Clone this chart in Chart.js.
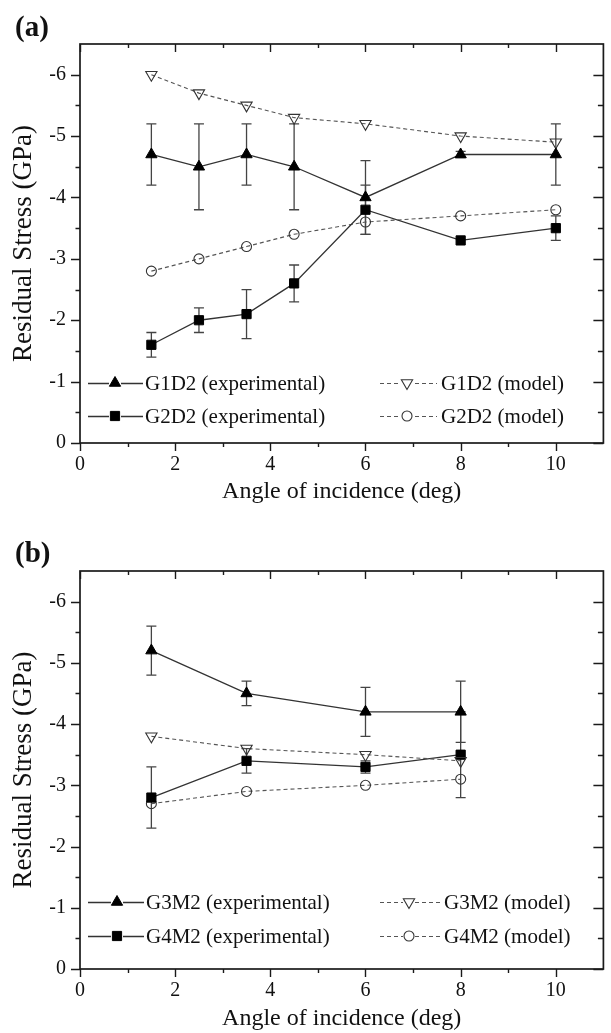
<!DOCTYPE html>
<html><head><meta charset="utf-8">
<script src="https://cdn.jsdelivr.net/npm/chart.js@4.4.1/dist/chart.umd.min.js"></script>
<style>
html,body{margin:0;padding:0;background:#fff;width:611px;height:1033px;overflow:hidden;}
.panel{position:absolute;left:0;width:611px;}
.tag{position:absolute;left:15px;font:bold 29px/29px "Liberation Serif","Times New Roman",serif;color:#111;z-index:2;}
</style></head><body>
<div class="panel" style="top:0;height:516px"><canvas id="ca" width="611" height="516"></canvas></div>
<div class="panel" style="top:516px;height:517px"><canvas id="cb" width="611" height="517"></canvas></div>
<div class="tag" style="top:12px">(a)</div>
<div class="tag" style="top:538px">(b)</div>
<script>
// ---------- data ----------
const angleA = [1.5, 2.5, 3.5, 4.5, 6, 8, 10];
const g1d2Exp = [-4.7, -4.5, -4.7, -4.5, -4.0, -4.7, -4.7];
const g1d2ExpErr = [0.5, 0.7, 0.5, 0.7, 0.6, 0.05, 0.5];
const g1d2Model = [-6.0, -5.7, -5.5, -5.3, -5.2, -5.0, -4.9];
const g2d2Exp = [-1.6, -2.0, -2.1, -2.6, -3.8, -3.3, -3.5];
const g2d2ExpErr = [0.2, 0.2, 0.4, 0.3, 0.4, 0, 0.2];
const g2d2Model = [-2.8, -3.0, -3.2, -3.4, -3.6, -3.7, -3.8];

const angleB = [1.5, 3.5, 6, 8];
const g3m2Exp = [-5.2, -4.5, -4.2, -4.2];
const g3m2ExpErr = [0.4, 0.2, 0.4, 0.5];
const g3m2Model = [-3.8, -3.6, -3.5, -3.4];
const g4m2Exp = [-2.8, -3.4, -3.3, -3.5];
const g4m2ExpErr = [0.5, 0.2, 0.1, 0.7];
const g4m2Model = [-2.7, -2.9, -3.0, -3.1];

const xTickValues = [0, 2, 4, 6, 8, 10];
const xMinorTickValues = [1, 3, 5, 7, 9];
const yTickValues = [0, -1, -2, -3, -4, -5, -6];
const yMinorTickValues = [-0.5, -1.5, -2.5, -3.5, -4.5, -5.5];
const xRange = [0, 11];
const yRange = [-6.5, 0];

const labelsA = ['G1D2 (experimental)', 'G1D2 (model)', 'G2D2 (experimental)', 'G2D2 (model)'];
const labelsB = ['G3M2 (experimental)', 'G3M2 (model)', 'G4M2 (experimental)', 'G4M2 (model)'];
const xTitle = 'Angle of incidence (deg)';
const yTitle = 'Residual Stress (GPa)';

// ---------- helpers ----------
const FONT = '"Liberation Serif","Times New Roman",serif';
const xy = (xs, ys) => xs.map((x, i) => ({x: x, y: ys[i]}));

function expSet(label, xs, ys, errs, style, radius) {
  return {label, data: xy(xs, ys), errorBars: errs,
    borderColor: '#333', borderWidth: 1.3, tension: 0, fill: false,
    pointStyle: style, pointRadius: radius, pointHoverRadius: radius,
    pointBackgroundColor: '#000', pointBorderColor: '#000', pointBorderWidth: 1};
}
function modelSet(label, xs, ys, style, radius, rotation) {
  return {label, data: xy(xs, ys),
    borderColor: '#555', borderWidth: 1.1, borderDash: [4, 3], tension: 0, fill: false,
    pointStyle: style, pointRadius: radius, pointHoverRadius: radius, pointRotation: rotation || 0,
    pointBackgroundColor: 'rgba(255,255,255,0)', pointBorderColor: '#333', pointBorderWidth: 1.1};
}

const errorBarPlugin = {
  id: 'errorBars',
  beforeDatasetsDraw(chart) {
    const {ctx} = chart; const xs = chart.scales.x, ys = chart.scales.y;
    ctx.save();
    ctx.strokeStyle = '#444'; ctx.lineWidth = 1.3;
    chart.data.datasets.forEach(ds => {
      if (!ds.errorBars) return;
      ds.data.forEach((p, j) => {
        const e = ds.errorBars[j]; if (!e) return;
        const px = xs.getPixelForValue(p.x);
        const y1 = ys.getPixelForValue(p.y - e), y2 = ys.getPixelForValue(p.y + e);
        ctx.beginPath();
        ctx.moveTo(px, y1); ctx.lineTo(px, y2);
        ctx.moveTo(px - 5, y1); ctx.lineTo(px + 5, y1);
        ctx.moveTo(px - 5, y2); ctx.lineTo(px + 5, y2);
        ctx.stroke();
      });
    });
    ctx.restore();
  }
};

const frameTicksPlugin = {
  id: 'frameTicks',
  afterDatasetsDraw(chart) {
    const {ctx, chartArea: a} = chart; const xs = chart.scales.x, ys = chart.scales.y;
    ctx.save();
    ctx.strokeStyle = '#1a1a1a'; ctx.lineWidth = 1.7;
    ctx.strokeRect(a.left, a.top, a.right - a.left, a.bottom - a.top);
    ctx.lineWidth = 1.4;
    ctx.beginPath();
    const xt = (vals, len) => vals.forEach(v => {
      const p = Math.round(xs.getPixelForValue(v)) + 0.5;
      ctx.moveTo(p, a.bottom); ctx.lineTo(p, a.bottom + len);
      ctx.moveTo(p, a.top); ctx.lineTo(p, a.top + len);
    });
    const yt = (vals, len) => vals.forEach(v => {
      const p = Math.round(ys.getPixelForValue(v)) + 0.5;
      ctx.moveTo(a.left, p); ctx.lineTo(a.left - len, p);
      ctx.moveTo(a.right, p); ctx.lineTo(a.right - len - 1, p);
    });
    xt(xTickValues, 8); xt(xMinorTickValues, 4);
    yt(yTickValues, 9); yt(yMinorTickValues, 4.5);
    ctx.stroke();
    ctx.restore();
  }
};

const legendPlugin = {
  id: 'boxLegend',
  afterDraw(chart, args, opts) {
    const {ctx} = chart;
    ctx.save();
    ctx.font = '21px ' + FONT; ctx.textBaseline = 'middle'; ctx.textAlign = 'left';
    opts.items.forEach(it => {
      const ds = chart.data.datasets[it.ds];
      const col = opts.cols[it.col]; const y = opts.rows[it.row];
      ctx.save();
      ctx.strokeStyle = ds.borderColor; ctx.lineWidth = ds.borderWidth;
      ctx.setLineDash(ds.borderDash || []);
      ctx.beginPath(); ctx.moveTo(col.x0, y + 0.5); ctx.lineTo(col.x1, y + 0.5); ctx.stroke();
      ctx.setLineDash([]);
      ctx.fillStyle = '#fff';
      ctx.fillRect(col.m - 6, y - 6, 12, 12);
      ctx.fillStyle = ds.pointBackgroundColor; ctx.strokeStyle = ds.pointBorderColor;
      ctx.lineWidth = ds.pointBorderWidth;
      Chart.helpers.drawPoint(ctx, {pointStyle: ds.pointStyle, rotation: ds.pointRotation || 0,
        radius: ds.pointRadius, borderWidth: ds.pointBorderWidth}, col.m, y);
      ctx.restore();
      ctx.fillStyle = '#111';
      ctx.fillText(ds.label, col.t, y + 1);
    });
    ctx.restore();
  }
};

function makeChart(id, datasets, legendRows, legendCols, padTop, xAxisHeight, xTitlePad) {
  return new Chart(document.getElementById(id), {
    type: 'line',
    data: {datasets},
    plugins: [errorBarPlugin, frameTicksPlugin, legendPlugin],
    options: {
      responsive: false, animation: false, devicePixelRatio: 1, events: [],
      layout: {padding: {left: 0, right: 4, top: padTop, bottom: 0}},
      plugins: {
        legend: {display: false}, tooltip: {enabled: false},
        boxLegend: {rows: legendRows, cols: legendCols,
          items: [{ds: 0, col: 0, row: 0}, {ds: 1, col: 1, row: 0}, {ds: 2, col: 0, row: 1}, {ds: 3, col: 1, row: 1}]}
      },
      scales: {
        x: {type: 'linear', position: 'bottom', min: xRange[0], max: xRange[1],
          afterBuildTicks: s => { s.ticks = xTickValues.map(v => ({value: v})); },
          afterFit: s => { s.height = xAxisHeight; },
          grid: {display: false, drawTicks: false}, border: {display: false},
          ticks: {color: '#111', font: {family: FONT, size: 20}, padding: 10, maxRotation: 0, autoSkip: false,
            callback: v => String(v)},
          title: {display: true, text: xTitle, color: '#111', font: {family: FONT, size: 24},
            padding: {top: 0, bottom: xTitlePad}}
        },
        y: {type: 'linear', position: 'left', min: yRange[0], max: yRange[1], reverse: true,
          afterBuildTicks: s => { s.ticks = yTickValues.map(v => ({value: v})); },
          afterFit: s => { s.width = 80; },
          grid: {display: false, drawTicks: false}, border: {display: false},
          ticks: {color: '#111', font: {family: FONT, size: 20}, padding: 14, autoSkip: false,
            callback: v => String(v)},
          title: {display: true, text: yTitle, color: '#111', font: {family: FONT, size: 27},
            padding: {top: 8, bottom: 0}}
        }
      }
    }
  });
}

makeChart('ca', [
  expSet(labelsA[0], angleA, g1d2Exp, g1d2ExpErr, 'triangle', 6.5),
  modelSet(labelsA[1], angleA, g1d2Model, 'triangle', 6.5, 180),
  expSet(labelsA[2], angleA, g2d2Exp, g2d2ExpErr, 'rect', 6.5),
  modelSet(labelsA[3], angleA, g2d2Model, 'circle', 5)
], [383, 416], [{x0: 88, x1: 143, m: 115, t: 145}, {x0: 380, x1: 437, m: 407, t: 441}], 44, 73, 10);

makeChart('cb', [
  expSet(labelsB[0], angleB, g3m2Exp, g3m2ExpErr, 'triangle', 6.5),
  modelSet(labelsB[1], angleB, g3m2Model, 'triangle', 6.5, 180),
  expSet(labelsB[2], angleB, g4m2Exp, g4m2ExpErr, 'rect', 6.5),
  modelSet(labelsB[3], angleB, g4m2Model, 'circle', 5)
], [386, 420], [{x0: 88, x1: 144, m: 117, t: 146}, {x0: 380, x1: 442, m: 409, t: 444}], 55, 64, 0);
</script>
</body></html>
